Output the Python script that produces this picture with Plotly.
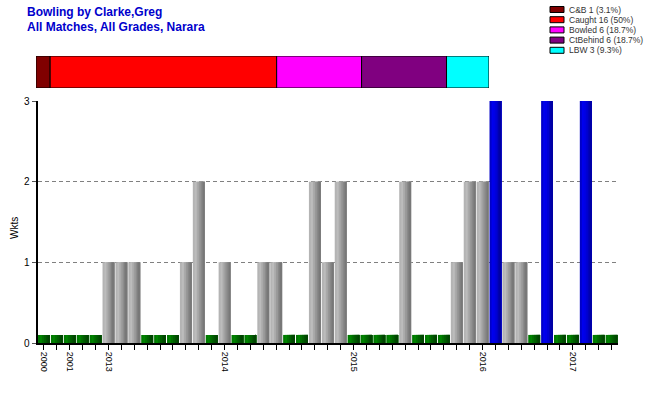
import math
import plotly.graph_objects as go

# ---------------- data ----------------
wickets = [0, 0, 0, 0, 0, 1, 1, 1, 0, 0, 0, 1, 2, 0, 1, 0, 0, 1, 1, 0,
           0, 2, 1, 2, 0, 0, 0, 0, 2, 0, 0, 0, 1, 2, 2, 3, 1, 1, 0, 3,
           0, 0, 3, 0, 0]
year_labels = {1: "2000", 3: "2001", 6: "2013", 15: "2014", 25: "2015",
               35: "2016", 42: "2017"}
dismissal_names = ["C&B", "Caught", "Bowled", "CtBehind", "LBW"]
dismissal_counts = [1, 16, 6, 6, 3]
dismissal_colors = ["#800000", "#ff0000", "#ff00ff", "#800080", "#00ffff"]
title_lines = ["Bowling by Clarke,Greg", "All Matches, All Grades, Narara"]
zero_height = 0.1

W, H = 650, 400
FONT = "Liberation Sans, Arial, sans-serif"

def px_x(p):
    return p / W

def px_y(p):
    return 1 - p / H

matches = list(range(1, len(wickets) + 1))
ticktext = [year_labels.get(m, "") for m in matches]

# colour groups with gradient strips (left -> right)
groups = {
    "zero": ["#007800", "#008400", "#007000", "#006000", "#005200", "#004400"],
    "grey": ["#b4b4b4", "#bcbcbc", "#aaaaaa", "#989898", "#888888", "#787878"],
    "best": ["#0000c8", "#0000ee", "#0000e6", "#0000d4", "#0000bc", "#0000a4"],
}
def group_of(v):
    if v == 0:
        return "zero"
    if v >= 3:
        return "best"
    return "grey"

fig = go.Figure()

bar_w = 0.92
n_strips = 6
sw = bar_w / n_strips
for g, cols in groups.items():
    xs = [m for m, v in zip(matches, wickets) if group_of(v) == g]
    ys = [v if v > 0 else zero_height for v in wickets if group_of(v) == g]
    for k, c in enumerate(cols):
        fig.add_trace(go.Bar(
            x=xs, y=ys, width=bar_w - k * sw, offset=-bar_w / 2 + k * sw,
            marker=dict(color=c, line=dict(width=0)),
            xaxis="x", yaxis="y", showlegend=False, hoverinfo="skip"))

# stacked dismissal bar
total = sum(dismissal_counts)
base = 0
for name, cnt, col in zip(dismissal_names, dismissal_counts, dismissal_colors):
    fig.add_trace(go.Bar(
        y=[0], x=[cnt], base=[base], orientation="h", width=1,
        marker=dict(color=col, line=dict(color="#000000", width=1)),
        xaxis="x2", yaxis="y2", showlegend=False, hoverinfo="skip"))
    base += cnt

layout_shapes = []
annotations = []
# legend (manual)
for i, (name, cnt, col) in enumerate(zip(dismissal_names, dismissal_counts, dismissal_colors)):
    pct = math.floor(cnt / total * 1000) / 10
    label = f"{name} {cnt} ({pct:g}%)"
    yc = 9.5 + 10.2 * i
    layout_shapes.append(dict(type="rect", xref="paper", yref="paper",
                              x0=px_x(550), x1=px_x(564),
                              y0=px_y(yc - 3), y1=px_y(yc + 3),
                              fillcolor=col, line=dict(color="#000000", width=1)))
    annotations.append(dict(text=label, xref="paper", yref="paper",
                            x=px_x(567), y=px_y(yc), xanchor="left", yanchor="middle",
                            showarrow=False, font=dict(family=FONT, size=8.5, color="#333333")))

for i, t in enumerate(title_lines):
    annotations.append(dict(text=f"<b>{t}</b>", xref="paper", yref="paper",
                            x=px_x(25), y=px_y(12 + 15 * i), xanchor="left", yanchor="middle",
                            showarrow=False, font=dict(family=FONT, size=12, color="#0000cc")))

annotations.append(dict(text="Wkts", xref="paper", yref="paper", x=px_x(15), y=px_y(228),
                        xanchor="center", yanchor="middle", textangle=-90, showarrow=False,
                        font=dict(family=FONT, size=10, color="#000000")))

fig.update_layout(
    template="none",
    width=W, height=H, margin=dict(l=0, r=0, t=0, b=0, pad=0),
    paper_bgcolor="white", plot_bgcolor="white",
    barmode="overlay", showlegend=False,
    font=dict(family=FONT, size=10, color="#000000"),
    shapes=layout_shapes, annotations=annotations,
    xaxis=dict(domain=[px_x(37.5), px_x(618)], range=[0.5, len(wickets) + 0.5],
               tickmode="array", tickvals=matches, ticktext=ticktext, tickangle=90,
               ticks="outside", ticklen=5, tickcolor="#000000", tickwidth=1,
               tickfont=dict(family=FONT, size=9, color="#000000"),
               showline=True, linecolor="#000000", linewidth=2, automargin=False,
               showgrid=False, zeroline=False, anchor="y"),
    yaxis=dict(domain=[px_y(343), px_y(101)], range=[0, 3],
               tickmode="array", tickvals=[0, 1, 2, 3],
               ticks="outside", ticklen=4, tickcolor="#555555", tickwidth=1,
               tickfont=dict(family=FONT, size=10, color="#000000"),
               showline=True, linecolor="#000000", linewidth=2, automargin=False,
               showgrid=True, gridcolor="#808080", griddash="4px,3px", gridwidth=1,
               zeroline=False, anchor="x"),
    xaxis2=dict(domain=[px_x(36), px_x(489)], range=[0, total], visible=False,
                anchor="y2", fixedrange=True),
    yaxis2=dict(domain=[px_y(88), px_y(56)], range=[-0.5, 0.5], visible=False,
                anchor="x2", fixedrange=True),
)

fig.write_html("out.html", config={"displayModeBar": False},
               post_script="document.body.style.margin='0';document.body.style.overflow='hidden';")
